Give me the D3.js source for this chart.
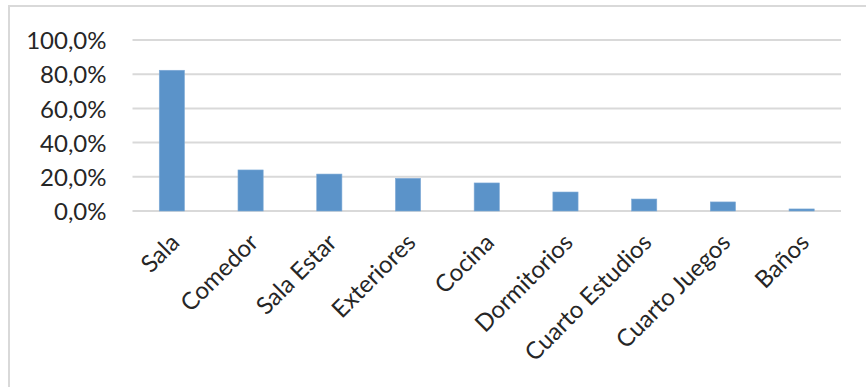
<!DOCTYPE html>
<html>
<head>
<meta charset="utf-8">
<script src="https://cdn.jsdelivr.net/npm/d3@7"></script>
<style>
  html, body { margin: 0; padding: 0; background: #fff; }
  svg { display: block; }
  text { font-family: Lato, "Open Sans", sans-serif; fill: #262626; }
</style>
</head>
<body>
<svg id="chart" width="866" height="387"></svg>
<script>
// Espacios de la vivienda y porcentaje de menciones
const categories = ["Sala", "Comedor", "Sala Estar", "Exteriores", "Cocina",
                    "Dormitorios", "Cuarto Estudios", "Cuarto Juegos", "Baños"];
const values = [82.3, 24.0, 21.6, 19.1, 16.4, 11.1, 7.0, 5.3, 1.2];
const yTicks = [0, 20, 40, 60, 80, 100];

const svg = d3.select("#chart");
const W = 866, H = 387;
const margin = { top: 40, right: 25, bottom: 176, left: 132.5 };
const plotW = W - margin.left - margin.right;
const plotH = H - margin.top - margin.bottom;

// Marco del gráfico
svg.append("path")
  .attr("d", `M9,${H} L9,6 L${W},6`)
  .attr("fill", "none")
  .attr("stroke", "#d9d9d9")
  .attr("stroke-width", 2);

const g = svg.append("g").attr("transform", `translate(${margin.left},${margin.top})`);

const x = d3.scaleBand().domain(categories).range([0, plotW]).paddingInner(0.68).paddingOuter(0.34);
const y = d3.scaleLinear().domain([0, 100]).range([plotH, 0]);

// Líneas de cuadrícula
g.append("g")
  .selectAll("line")
  .data(yTicks)
  .join("line")
  .attr("x1", 0).attr("x2", plotW)
  .attr("y1", d => y(d)).attr("y2", d => y(d))
  .attr("stroke", "#d9d9d9")
  .attr("stroke-width", 2);

// Eje Y
const fmt = d => d3.format(".1f")(d).replace(".", ",") + "%";
const yAxis = g.append("g")
  .call(d3.axisLeft(y).tickValues(yTicks).tickFormat(fmt).tickSize(0).tickPadding(26));
yAxis.select(".domain").remove();
yAxis.selectAll("text")
  .attr("font-size", 24)
  .attr("dy", "0.36em")
  .style("fill", "#262626");

// Barras
g.append("g")
  .selectAll("rect")
  .data(values)
  .join("rect")
  .attr("x", (d, i) => x(categories[i]))
  .attr("y", d => y(d))
  .attr("width", x.bandwidth())
  .attr("height", d => y(0) - y(d))
  .attr("fill", "#5b93c9")
  .attr("stroke", "#7eaad6")
  .attr("stroke-width", 0.6);

// Eje X con etiquetas rotadas
const xAxis = g.append("g")
  .attr("transform", `translate(0,${plotH})`)
  .call(d3.axisBottom(x).tickSize(0).tickPadding(0));
xAxis.select(".domain").remove();
xAxis.selectAll("text")
  .attr("font-size", 24)
  .attr("text-anchor", "end")
  .attr("dy", 0)
  .attr("transform", "translate(9,33) rotate(-45)")
  .style("fill", "#262626");
</script>
</body>
</html>
